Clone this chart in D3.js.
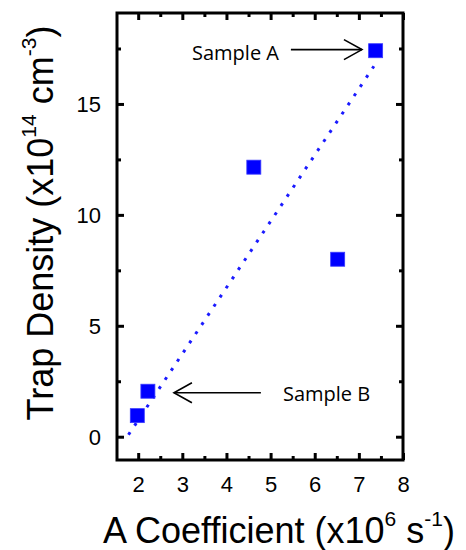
<!DOCTYPE html>
<html>
<head>
<meta charset="utf-8">
<script src="https://cdn.jsdelivr.net/npm/d3@7"></script>
<style>
  body { margin: 0; background: #fff; }
  svg { display: block; }
  .tick text { font-family: Arial, "Liberation Sans", sans-serif; font-size: 22px; fill: #000; }
  .tick line { stroke: #000; stroke-width: 3; }
</style>
</head>
<body>
<div id="myVis"></div>
<script>
var margin = {top: 13, right: 63, bottom: 90, left: 117},
    width = 466 - margin.left - margin.right,
    height = 550 - margin.top - margin.bottom;

// data
const aCoeff = [1.98, 2.22, 4.62, 6.52, 7.38];
const trapDensity = [0.95, 2.05, 12.15, 8.0, 17.4];

// dotted guide line, end points
const fitX = [1.78, 7.34];
const fitY = [0.09, 16.7];

const xTicks = [2, 3, 4, 5, 6, 7, 8];
const xMinor = [2.5, 3.5, 4.5, 5.5, 6.5, 7.5];
const yTicks = [0, 5, 10, 15];
const yMinor = [2.5, 7.5, 12.5, 17.5];

// annotations: label, arrow tail, arrow head (data coords)
const noteLabels = ["Sample A", "Sample B"];
const noteTail = [[5.46, 17.45], [4.78, 1.98]];
const noteHead = [[7.07, 17.45], [2.81, 1.98]];
const noteTextX = [5.19, 5.28];

const svg = d3.select("#myVis")
    .append("svg")
    .attr("width", width + margin.left + margin.right)
    .attr("height", height + margin.top + margin.bottom);

const canvas = svg.append("g")
    .attr("transform", "translate(" + margin.left + "," + margin.top + ")");

var xScale = d3.scaleLinear()
    .domain([1.52, 8])
    .range([0, width]);

var yScale = d3.scaleLinear()
    .domain([-1.05, 19.1])
    .range([height, 0]);

// axes, ticks point inwards
function addAxis(axis, tr, vals, size, labels, dy) {
  const g = canvas.append("g")
      .attr("transform", tr)
      .call(axis.tickValues(vals).tickSize(size).tickPadding(labels ? 16 : 0)
            .tickFormat(labels ? d3.format("d") : ""));
  g.select(".domain").remove();
  g.selectAll(".tick text").attr("dy", dy);
  return g;
}

addAxis(d3.axisBottom(xScale), "translate(0," + height + ")", xTicks, -7, true, "0.72em")
addAxis(d3.axisBottom(xScale), "translate(0," + height + ")", xMinor, -4, false)
addAxis(d3.axisTop(xScale), "translate(0,0)", xTicks, -7, false)
addAxis(d3.axisTop(xScale), "translate(0,0)", xMinor, -4, false)
addAxis(d3.axisLeft(yScale), "translate(0,0)", yTicks, -7, true, "0.36em")
addAxis(d3.axisLeft(yScale), "translate(0,0)", yMinor, -4, false)
addAxis(d3.axisRight(yScale), "translate(" + width + ",0)", yTicks, -7, false)
addAxis(d3.axisRight(yScale), "translate(" + width + ",0)", yMinor, -4, false)

// frame
canvas.append("rect")
    .attr("width", width)
    .attr("height", height)
    .attr("fill", "none")
    .attr("stroke", "#000")
    .attr("stroke-width", 3);

// dotted line
canvas.append("line")
    .attr("x1", xScale(fitX[0]))
    .attr("y1", yScale(fitY[0]))
    .attr("x2", xScale(fitX[1]))
    .attr("y2", yScale(fitY[1]))
    .attr("stroke", "#1a1aff")
    .attr("stroke-width", 3)
    .attr("stroke-dasharray", "3,8");

// points
canvas.selectAll("rect.pt")
    .data(aCoeff)
    .enter()
    .append("rect")
        .attr("class", "pt")
        .attr("x", (d) => xScale(d) - 7)
        .attr("y", (d, i) => yScale(trapDensity[i]) - 7)
        .attr("width", 14)
        .attr("height", 14)
        .attr("fill", "#0000ff")
        .attr("stroke", "#3a3aff")
        .attr("stroke-width", 0.8);

// annotations
noteLabels.forEach(function(lab, i) {
  const x1 = xScale(noteTail[i][0]), y1 = yScale(noteTail[i][1]);
  const x2 = xScale(noteHead[i][0]), y2 = yScale(noteHead[i][1]);
  const dir = x2 > x1 ? 1 : -1;
  canvas.append("line")
      .attr("x1", x1).attr("y1", y1).attr("x2", x2).attr("y2", y2)
      .attr("stroke", "#000").attr("stroke-width", 1.6);
  canvas.append("path")
      .attr("d", "M" + (x2 - dir * 18) + "," + (y2 - 10) + "L" + x2 + "," + y2 + "L" + (x2 - dir * 18) + "," + (y2 + 10))
      .attr("fill", "none").attr("stroke", "#000").attr("stroke-width", 1.6);
  canvas.append("text")
      .attr("x", xScale(noteTextX[i]))
      .attr("y", y1 + (i == 0 ? 10 : 8))
      .attr("text-anchor", i == 0 ? "end" : "start")
      .style("font-family", "'Open Sans', sans-serif")
      .style("font-size", "20px")
      .text(lab);
});

// x-axis label
const xl = svg.append("text")
    .attr("x", 279)
    .attr("y", 543)
    .attr("text-anchor", "middle")
    .style("font-family", "Arial, 'Liberation Sans', sans-serif")
    .style("font-size", "36px");
xl.append("tspan").text("A Coefficient (x10");
xl.append("tspan").attr("dy", -17).style("font-size", "21px").text("6");
xl.append("tspan").attr("dy", 17).text(" s");
xl.append("tspan").attr("dy", -17).style("font-size", "21px").text("-1");
xl.append("tspan").attr("dy", 17).text(")");

// y-axis label
const yl = svg.append("text")
    .attr("transform", "translate(53,223) rotate(-90)")
    .attr("text-anchor", "middle")
    .style("font-family", "Arial, 'Liberation Sans', sans-serif")
    .style("font-size", "36px");
yl.append("tspan").text("Trap Density (x10");
yl.append("tspan").attr("dy", -17).style("font-size", "21px").text("14");
yl.append("tspan").attr("dy", 17).text(" cm");
yl.append("tspan").attr("dy", -17).style("font-size", "21px").text("-3");
yl.append("tspan").attr("dy", 17).text(")");
</script>
</body>
</html>
